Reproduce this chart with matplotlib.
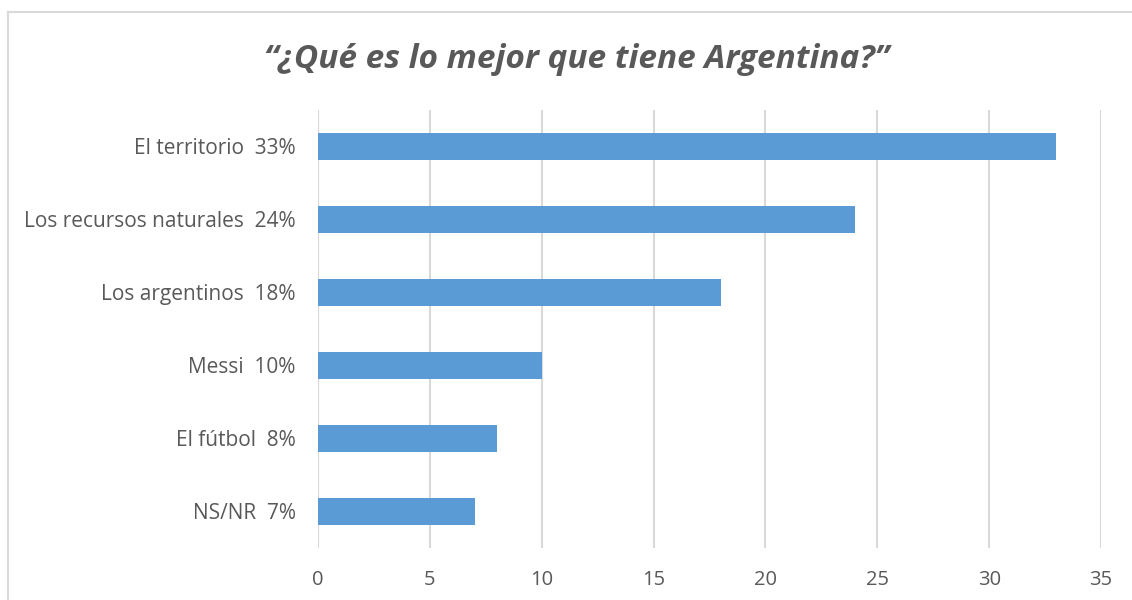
import matplotlib.pyplot as plt
from matplotlib.lines import Line2D

categories = ["El territorio", "Los recursos naturales", "Los argentinos", "Messi", "El fútbol", "NS/NR"]
values = [33, 24, 18, 10, 8, 7]
title = "“¿Qué es lo mejor que tiene Argentina?”"

labels = [f"{c}  {v}%" for c, v in zip(categories, values)]

plt.rcParams['font.family'] = ['Open Sans', 'DejaVu Sans']

fig = plt.figure(figsize=(11.32, 6.0), dpi=100)
ax = fig.add_axes([0.2809, 0.0867, 0.6917, 0.73])

pos = list(range(len(values)))
ax.barh(pos, values, height=0.36, color="#5B9BD5", zorder=3)
ax.set_ylim(len(values) - 0.5, -0.5)
ax.set_xlim(0, 35)
ax.set_xticks(range(0, 36, 5))
ax.set_yticks(pos)
ax.set_yticklabels(labels)

ax.grid(axis="x", color="#D9D9D9", linewidth=1.5, zorder=0)
for s in ax.spines.values():
    s.set_visible(False)
ax.tick_params(axis="both", length=0, labelsize=14.5, labelcolor="#595959")
ax.tick_params(axis="y", labelsize=15, pad=16)
ax.tick_params(axis="x", pad=16)

fig.text(0.509, 0.9, title, ha="center", va="center", fontsize=24,
         style="italic", fontweight="bold", color="#595959")

# chart border (left and top edges visible)
fig.add_artist(Line2D([8 / 1132, 8 / 1132], [0, 1 - 12 / 600], color="#D9D9D9", linewidth=1.5))
fig.add_artist(Line2D([8 / 1132, 1], [1 - 12 / 600, 1 - 12 / 600], color="#D9D9D9", linewidth=1.5))

fig.savefig("out.png", dpi=100)
